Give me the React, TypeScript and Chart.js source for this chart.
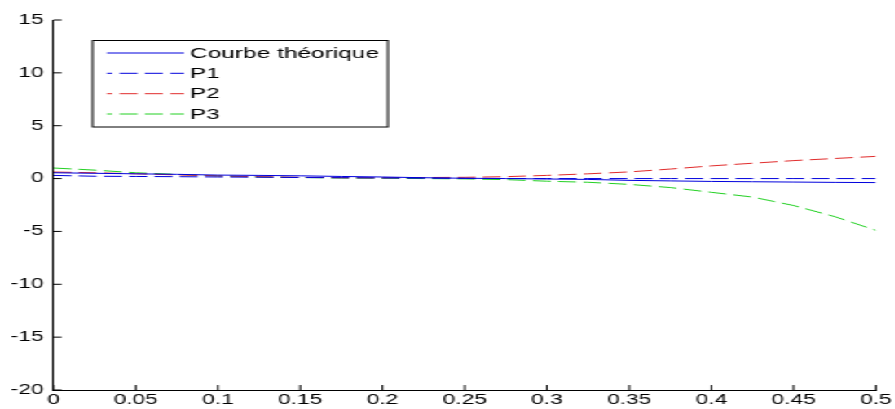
import React, { useEffect, useRef } from "react";
import { Chart, registerables } from "chart.js";

Chart.register(...registerables);

// ---- data ----
const xValues = [0, 0.025, 0.05, 0.075, 0.1, 0.125, 0.15, 0.175, 0.2, 0.225, 0.25, 0.275, 0.3, 0.325, 0.35, 0.375, 0.4, 0.425, 0.45, 0.475, 0.5];
const courbeTheorique = [0.55, 0.5, 0.45, 0.4, 0.33, 0.3, 0.26, 0.2, 0.15, 0.08, 0.03, 0.0, -0.04, -0.08, -0.17, -0.22, -0.27, -0.3, -0.33, -0.36, -0.38];
const p1 = [0.3, 0.22, 0.2, 0.18, 0.15, 0.13, 0.1, 0.08, 0.06, 0.04, 0.02, 0.01, 0, 0, 0, 0, 0, 0, 0, 0, 0];
const p2 = [0.62, 0.55, 0.45, 0.35, 0.25, 0.18, 0.12, 0.08, 0.07, 0.1, 0.12, 0.18, 0.3, 0.45, 0.63, 0.9, 1.2, 1.45, 1.7, 1.9, 2.1];
const p3 = [1.0, 0.8, 0.55, 0.4, 0.25, 0.15, 0.1, 0.05, 0.03, 0.0, -0.03, -0.1, -0.25, -0.35, -0.55, -0.85, -1.3, -1.75, -2.55, -3.6, -4.9];

const seriesLabels = ["Courbe théorique", "P1", "P2", "P3"];
const xTicks = [0, 0.05, 0.1, 0.15, 0.2, 0.25, 0.3, 0.35, 0.4, 0.45, 0.5];
const xTickLabels = ["0", "0.05", "0.1", "0.15", "0.2", "0.25", "0.3", "0.35", "0.4", "0.45", "0.5"];
const yTicks = [-20, -15, -10, -5, 0, 5, 10, 15];
const yTickLabels = ["-20", "-15", "-10", "-5", "0", "5", "10", "15"];

// ---- look ----
const S = 1.63; // horizontal stretch of the original figure
const W = 895 / S;
const H = 409;
const FONT = "'Liberation Sans', Arial, sans-serif";
const BLUE = "#0000dd";
const RED = "#e02a2a";
const GREEN = "#22d022";
const DASH = [11, 4.5];

const tickMarks = {
  id: "tickMarks",
  afterDraw(chart: any) {
    const ctx = chart.ctx;
    const a = chart.chartArea;
    const xs = chart.scales.x;
    const ys = chart.scales.y;
    ctx.save();
    ctx.strokeStyle = "#000";
    ctx.lineWidth = 1;
    ctx.beginPath();
    xTicks.forEach((v) => {
      const px = xs.getPixelForValue(v);
      ctx.moveTo(px, a.bottom);
      ctx.lineTo(px, a.bottom - 5);
    });
    yTicks.forEach((v) => {
      const py = ys.getPixelForValue(v);
      ctx.moveTo(a.left, py);
      ctx.lineTo(a.left + 5, py);
    });
    ctx.stroke();
    ctx.restore();
  },
};

const boxLegend = {
  id: "boxLegend",
  afterDraw(chart: any) {
    const ctx = chart.ctx;
    const left = 56.9, right = 238, top = 40.5, bottom = 127;
    const rows = [53, 73.3, 93.7, 114];
    const x1 = 65.6, x2 = 112.9, tx = 116.6;
    ctx.save();
    ctx.fillStyle = "#fff";
    ctx.fillRect(left, top, right - left, bottom - top);
    ctx.strokeStyle = "#000";
    ctx.lineWidth = 1;
    ctx.strokeRect(left, top, right - left, bottom - top);
    chart.data.datasets.forEach((ds: any, i: number) => {
      ctx.beginPath();
      ctx.strokeStyle = ds.borderColor;
      ctx.lineWidth = 1;
      const dash = ds.borderDash || [];
      ctx.setLineDash(dash);
      ctx.lineDashOffset = dash.length ? dash[0] * 0.7 : 0;
      ctx.moveTo(x1, rows[i]);
      ctx.lineTo(x2, rows[i]);
      ctx.stroke();
      ctx.setLineDash([]);
      ctx.fillStyle = "#000";
      ctx.font = `15px ${FONT}`;
      ctx.textBaseline = "middle";
      ctx.textAlign = "left";
      ctx.fillText(ds.label, tx, rows[i] + 0.5);
    });
    ctx.restore();
  },
};

export default function App() {
  const ref = useRef<HTMLCanvasElement>(null);
  useEffect(() => {
    if (!ref.current) return;
    const mk = (vals: number[]) => xValues.map((x, i) => ({ x, y: vals[i] }));
    const chart = new Chart(ref.current, {
      type: "line",
      data: {
        datasets: [
          { label: seriesLabels[0], data: mk(courbeTheorique), borderColor: BLUE, borderWidth: 1 },
          { label: seriesLabels[1], data: mk(p1), borderColor: BLUE, borderWidth: 1, borderDash: DASH },
          { label: seriesLabels[2], data: mk(p2), borderColor: RED, borderWidth: 1, borderDash: DASH },
          { label: seriesLabels[3], data: mk(p3), borderColor: GREEN, borderWidth: 1, borderDash: DASH },
        ],
      },
      options: {
        animation: false,
        responsive: true,
        maintainAspectRatio: false,
        devicePixelRatio: 1,
        layout: { padding: { top: 20, right: W - 876 / S, left: 0, bottom: 0 } },
        elements: { point: { radius: 0 }, line: { tension: 0 } },
        plugins: { legend: { display: false }, tooltip: { enabled: false } },
        scales: {
          x: {
            type: "linear",
            min: 0,
            max: 0.5,
            afterBuildTicks: (s: any) => {
              s.ticks = xTicks.map((v) => ({ value: v }));
            },
            afterFit: (s: any) => {
              s.height = H - 390;
            },
            grid: { display: true, drawOnChartArea: false, drawTicks: false },
            border: { display: true, color: "#000", width: 1 },
            ticks: {
              autoSkip: false,
              maxRotation: 0,
              padding: 2,
              color: "#000",
              font: { family: FONT, size: 14 },
              callback: (v: any) => {
                const i = xTicks.findIndex((t) => Math.abs(t - Number(v)) < 1e-9);
                return i >= 0 ? xTickLabels[i] : "";
              },
            },
          },
          y: {
            type: "linear",
            min: -20,
            max: 15,
            afterBuildTicks: (s: any) => {
              s.ticks = yTicks.map((v) => ({ value: v }));
            },
            afterFit: (s: any) => {
              s.width = 53.5 / S;
            },
            grid: { display: true, drawOnChartArea: false, drawTicks: false },
            border: { display: true, color: "#000", width: 1 },
            ticks: {
              autoSkip: false,
              padding: 6,
              color: "#000",
              font: { family: FONT, size: 14 },
              callback: (v: any) => {
                const i = yTicks.findIndex((t) => Math.abs(t - Number(v)) < 1e-9);
                return i >= 0 ? yTickLabels[i] : "";
              },
            },
          },
        },
      },
      plugins: [tickMarks, boxLegend],
    });
    return () => chart.destroy();
  }, []);

  return (
    <div
      style={{
        position: "absolute",
        left: 0,
        top: 0,
        width: `${W}px`,
        height: `${H}px`,
        transform: `scaleX(${S})`,
        transformOrigin: "0 0",
        background: "#fff",
      }}
    >
      <canvas ref={ref} />
    </div>
  );
}
